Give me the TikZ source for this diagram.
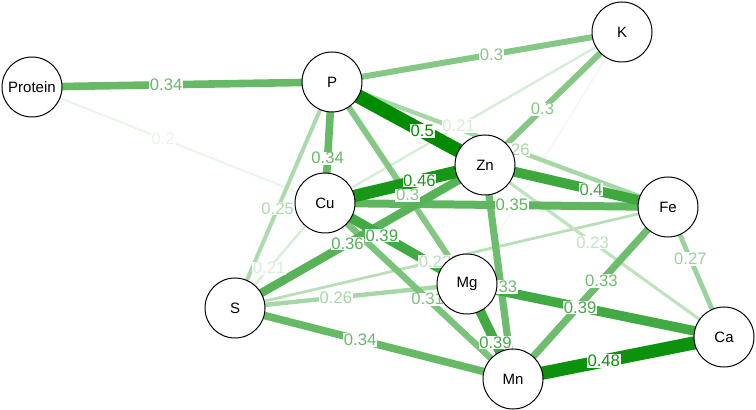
\documentclass[tikz,border=0pt]{standalone}
\usepackage{fontspec}
\setmainfont{Liberation Sans}
\usepackage{xcolor}
\usepackage{tikz}

\definecolor{edgegreen}{RGB}{0,140,0}
\pgfdeclarelayer{edges}
\pgfdeclarelayer{labels}
\pgfsetlayers{edges,labels,main}

\begin{document}
\begin{tikzpicture}[x=0.6pt, y=-0.6pt,
    var/.style={circle, draw, fill=white, line width=0.6pt, minimum size=36pt, inner sep=1pt, font=\fontsize{9}{10}\selectfont},
    corr/.style 2 args={line width={(#1-0.15)*24pt}, color=edgegreen!#2!white},
    wlab/.style={fill=white, inner sep=0.4pt, font=\fontsize{10}{11}\selectfont}]
          \useasboundingbox (0,0) rectangle (756,410);

          \node[var] (Protein) at (32,87) {Protein};
          \node[var] (P) at (332,82) {P};
          \node[var] (K) at (622,32) {K};
          \node[var] (Zn) at (485,165) {Zn};
          \node[var] (Cu) at (325,203) {Cu};
          \node[var] (Fe) at (668,207) {Fe};
          \node[var] (S) at (235,308) {S};
          \node[var] (Mg) at (467,284) {Mg};
          \node[var] (Mn) at (513,379) {Mn};
          \node[var] (Ca) at (724,337) {Ca};

          \begin{pgfonlayer}{edges}
          \draw[corr={0.19}{6}] (K.center) -- (Mg.center);
          \end{pgfonlayer}

          % from/to/weight/shade/label position/label
          \foreach \from/\to/\w/\s/\p/\l in {
              Protein/Cu/0.2/9/0.447/0.2, K/Cu/0.21/16/0.55/0.21, Cu/S/0.21/16/0.62/0.21,
              S/Fe/0.22/28/0.462/0.22, Zn/Ca/0.23/25/0.45/0.23, P/S/0.25/32/0.56/0.25,
              P/Fe/0.26/35/0.54/0.26, S/Mg/0.26/35/0.435/0.26, Fe/Ca/0.27/39/0.4/0.27,
              P/K/0.3/48/0.55/0.3, K/Zn/0.3/48/0.58/0.3, P/Mg/0.3/48/0.56/0.3,
              Cu/Mn/0.31/52/0.546/0.31, Zn/Mn/0.33/57/0.57/0.33, Mn/Fe/0.33/57/0.57/0.33,
              Protein/P/0.34/60/0.447/0.34, P/Cu/0.34/60/0.63/0.34, S/Mn/0.34/60/0.45/0.34,
              Cu/Fe/0.35/63/0.545/0.35, Zn/S/0.36/66/0.55/0.36, Cu/Mg/0.39/74/0.4/0.39,
              Mg/Mn/0.39/74/0.62/0.39, Mg/Ca/0.39/74/0.44/0.39, Zn/Fe/0.4/76/0.58/0.4,
              Cu/Zn/0.46/91/0.59/0.46, Mn/Ca/0.48/95/0.43/0.48, P/Zn/0.5/100/0.59/0.5} {
            \begin{pgfonlayer}{edges}
            \draw[corr={\w}{\s}] (\from.center) -- (\to.center);
            \end{pgfonlayer}
            \begin{pgfonlayer}{labels}
            \path[color=edgegreen!\s!white] (\from.center) -- node[wlab, pos=\p] {\l} (\to.center);
            \end{pgfonlayer}
          }
        \end{tikzpicture}
\end{document}
